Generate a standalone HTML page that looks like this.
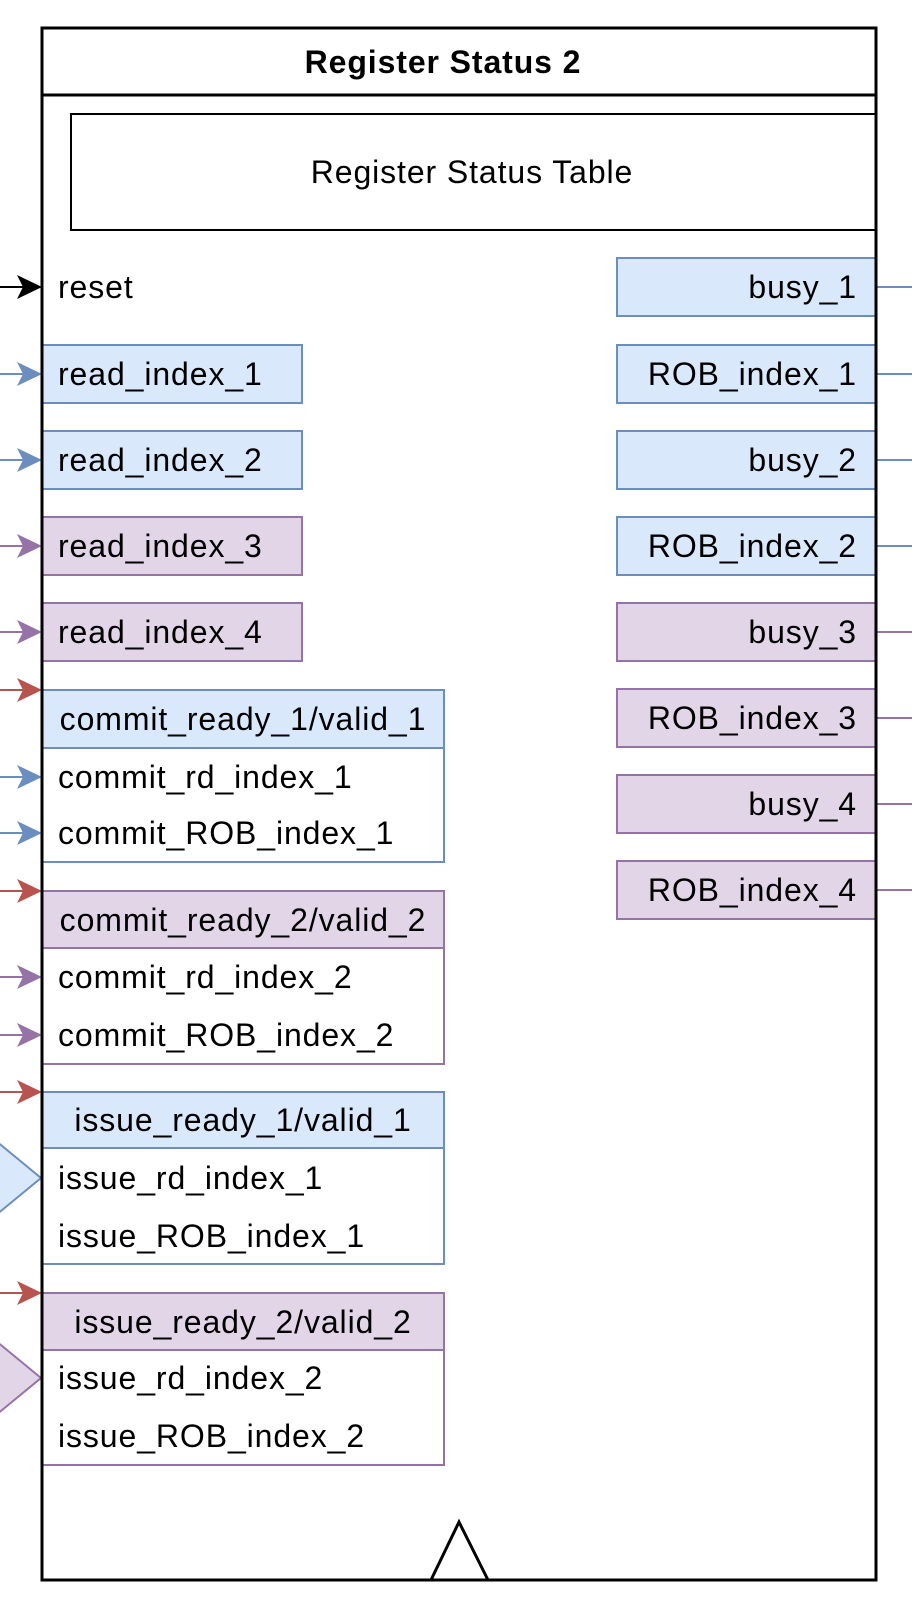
<!DOCTYPE html>
<html><head><meta charset="utf-8"><style>
html,body{margin:0;padding:0;background:#fff;}
svg{display:block;}
text{font-family:"Liberation Sans",Arial,Helvetica,sans-serif;font-size:32px;letter-spacing:0.9px;fill:#000;}
</style></head><body>
<svg width="912" height="1622" viewBox="0 0 912 1622" xmlns="http://www.w3.org/2000/svg">
<!-- outer -->
<rect x="42" y="28" width="834" height="1552" fill="#fff" stroke="#000" stroke-width="3"/>
<line x1="42" y1="95" x2="876" y2="95" stroke="#000" stroke-width="3"/>
<text x="443" y="73" text-anchor="middle" font-weight="bold">Register Status 2</text>
<rect x="71" y="114" width="805" height="116" fill="#fff" stroke="#000" stroke-width="2"/>
<text x="472" y="183" text-anchor="middle">Register Status Table</text>

<g stroke-width="2" fill="none">
<line x1="0" y1="287" x2="30" y2="287" stroke="#000"/>
<path d="M17,275 L42,287 L17,299 L23,287 Z" fill="#000" stroke="none"/>
</g>
<g stroke="#6c8ebf" fill="#6c8ebf">
<line x1="0" y1="374" x2="30" y2="374" stroke-width="2"/><path d="M17,362 L42,374 L17,386 L23,374 Z" stroke="none"/>
<line x1="0" y1="460" x2="30" y2="460" stroke-width="2"/><path d="M17,448 L42,460 L17,472 L23,460 Z" stroke="none"/>
<line x1="0" y1="777" x2="30" y2="777" stroke-width="2"/><path d="M17,765 L42,777 L17,789 L23,777 Z" stroke="none"/>
<line x1="0" y1="833" x2="30" y2="833" stroke-width="2"/><path d="M17,821 L42,833 L17,845 L23,833 Z" stroke="none"/>
</g>
<g stroke="#9673a6" fill="#9673a6">
<line x1="0" y1="546" x2="30" y2="546" stroke-width="2"/><path d="M17,534 L42,546 L17,558 L23,546 Z" stroke="none"/>
<line x1="0" y1="632" x2="30" y2="632" stroke-width="2"/><path d="M17,620 L42,632 L17,644 L23,632 Z" stroke="none"/>
<line x1="0" y1="977" x2="30" y2="977" stroke-width="2"/><path d="M17,965 L42,977 L17,989 L23,977 Z" stroke="none"/>
<line x1="0" y1="1035" x2="30" y2="1035" stroke-width="2"/><path d="M17,1023 L42,1035 L17,1047 L23,1035 Z" stroke="none"/>
</g>
<g stroke="#b85450" fill="#b85450">
<line x1="0" y1="690" x2="30" y2="690" stroke-width="2"/><path d="M17,678 L42,690 L17,702 L23,690 Z" stroke="none"/>
<line x1="0" y1="891" x2="30" y2="891" stroke-width="2"/><path d="M17,879 L42,891 L17,903 L23,891 Z" stroke="none"/>
<line x1="0" y1="1092" x2="30" y2="1092" stroke-width="2"/><path d="M17,1080 L42,1092 L17,1104 L23,1092 Z" stroke="none"/>
<line x1="0" y1="1293" x2="30" y2="1293" stroke-width="2"/><path d="M17,1281 L42,1293 L17,1305 L23,1293 Z" stroke="none"/>
</g>
<path d="M-10,1136 L41,1178 L-10,1220 Z" fill="#dae8fc" stroke="#6c8ebf" stroke-width="2"/>
<path d="M-10,1336 L41,1378 L-10,1420 Z" fill="#e1d5e7" stroke="#9673a6" stroke-width="2"/>

<g stroke-width="2">
<rect x="42" y="345" width="260" height="58" fill="#dae8fc" stroke="#6c8ebf"/>
<rect x="42" y="431" width="260" height="58" fill="#dae8fc" stroke="#6c8ebf"/>
<rect x="42" y="517" width="260" height="58" fill="#e1d5e7" stroke="#9673a6"/>
<rect x="42" y="603" width="260" height="58" fill="#e1d5e7" stroke="#9673a6"/>

<rect x="42" y="690" width="402" height="172" fill="#fff" stroke="#6c8ebf"/>
<rect x="42" y="690" width="402" height="58" fill="#dae8fc" stroke="#6c8ebf"/>
<rect x="42" y="891" width="402" height="173" fill="#fff" stroke="#9673a6"/>
<rect x="42" y="891" width="402" height="57" fill="#e1d5e7" stroke="#9673a6"/>
<rect x="42" y="1092" width="402" height="172" fill="#fff" stroke="#6c8ebf"/>
<rect x="42" y="1092" width="402" height="56" fill="#dae8fc" stroke="#6c8ebf"/>
<rect x="42" y="1293" width="402" height="172" fill="#fff" stroke="#9673a6"/>
<rect x="42" y="1293" width="402" height="57" fill="#e1d5e7" stroke="#9673a6"/>
</g>
<line x1="42" y1="28" x2="42" y2="1580" stroke="#000" stroke-width="3"/>

<text x="58" y="298">reset</text>
<text x="58" y="385">read_index_1</text>
<text x="58" y="471">read_index_2</text>
<text x="58" y="557">read_index_3</text>
<text x="58" y="643">read_index_4</text>
<text x="243" y="730" text-anchor="middle">commit_ready_1/valid_1</text>
<text x="58" y="788">commit_rd_index_1</text>
<text x="58" y="844">commit_ROB_index_1</text>
<text x="243" y="931" text-anchor="middle">commit_ready_2/valid_2</text>
<text x="58" y="988">commit_rd_index_2</text>
<text x="58" y="1046">commit_ROB_index_2</text>
<text x="243" y="1131" text-anchor="middle">issue_ready_1/valid_1</text>
<text x="58" y="1189">issue_rd_index_1</text>
<text x="58" y="1247">issue_ROB_index_1</text>
<text x="243" y="1333" text-anchor="middle">issue_ready_2/valid_2</text>
<text x="58" y="1389">issue_rd_index_2</text>
<text x="58" y="1447">issue_ROB_index_2</text>

<g stroke-width="2">
<rect x="617" y="258" width="259" height="58" fill="#dae8fc" stroke="#6c8ebf"/>
<rect x="617" y="345" width="259" height="58" fill="#dae8fc" stroke="#6c8ebf"/>
<rect x="617" y="431" width="259" height="58" fill="#dae8fc" stroke="#6c8ebf"/>
<rect x="617" y="517" width="259" height="58" fill="#dae8fc" stroke="#6c8ebf"/>
<rect x="617" y="603" width="259" height="58" fill="#e1d5e7" stroke="#9673a6"/>
<rect x="617" y="689" width="259" height="58" fill="#e1d5e7" stroke="#9673a6"/>
<rect x="617" y="775" width="259" height="58" fill="#e1d5e7" stroke="#9673a6"/>
<rect x="617" y="861" width="259" height="58" fill="#e1d5e7" stroke="#9673a6"/>
<g stroke="#6c8ebf">
<line x1="877" y1="287" x2="912" y2="287"/><line x1="877" y1="374" x2="912" y2="374"/>
<line x1="877" y1="460" x2="912" y2="460"/><line x1="877" y1="546" x2="912" y2="546"/>
</g>
<g stroke="#9673a6">
<line x1="877" y1="632" x2="912" y2="632"/><line x1="877" y1="718" x2="912" y2="718"/>
<line x1="877" y1="804" x2="912" y2="804"/><line x1="877" y1="890" x2="912" y2="890"/>
</g>
</g>
<line x1="876" y1="28" x2="876" y2="1580" stroke="#000" stroke-width="3"/>
<g text-anchor="end">
<text x="857" y="298">busy_1</text>
<text x="857" y="385">ROB_index_1</text>
<text x="857" y="471">busy_2</text>
<text x="857" y="557">ROB_index_2</text>
<text x="857" y="643">busy_3</text>
<text x="857" y="729">ROB_index_3</text>
<text x="857" y="815">busy_4</text>
<text x="857" y="901">ROB_index_4</text>
</g>

<path d="M431,1580 L459,1522 L488,1580" fill="#fff" stroke="#000" stroke-width="3"/>
<line x1="42" y1="1580" x2="876" y2="1580" stroke="#000" stroke-width="3"/>
</svg>
</body></html>
